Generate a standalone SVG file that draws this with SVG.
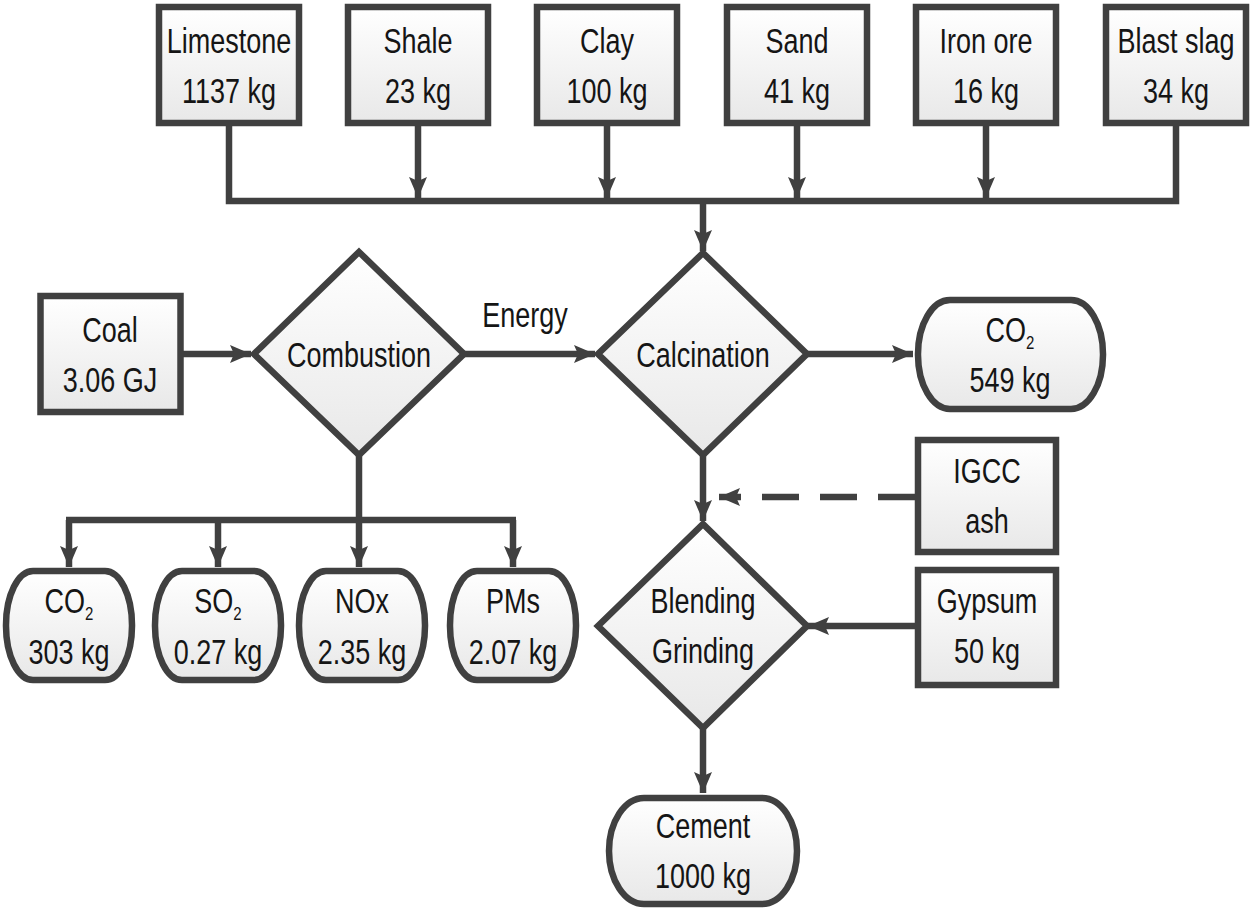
<svg xmlns="http://www.w3.org/2000/svg" width="1250" height="911" viewBox="0 0 1250 911">
<style>
.n{fill:url(#g);stroke:#404040;stroke-width:6.5;stroke-linejoin:miter}
.c{fill:none;stroke:#404040;stroke-width:6.5}
.a{marker-end:url(#ah)}
.d{stroke-dasharray:37 21}
.t{font-family:"Liberation Sans",Arial,sans-serif;font-size:27px;fill:#151515;text-anchor:middle}
.s{font-size:15px}
</style>
<defs>
<linearGradient id="g" x1="0" y1="0" x2="0" y2="1">
<stop offset="0" stop-color="#ffffff"/>
<stop offset="1" stop-color="#e8e8e8"/>
</linearGradient>
<marker id="ah" markerUnits="userSpaceOnUse" markerWidth="24" markerHeight="20" viewBox="0 -10 22 20" refX="21" refY="0" orient="auto">
<path d="M0,-9 L21,0 L0,9 L4,0 z" fill="#404040"/>
</marker>
</defs>
<rect width="1250" height="911" fill="#ffffff"/>

<g id="connectors">
<path class="c" d="M229,126 V201 H1176 V126"/>
<path class="c a" d="M418,126 V198"/>
<path class="c a" d="M607,126 V198"/>
<path class="c a" d="M797,126 V198"/>
<path class="c a" d="M986,126 V198"/>
<path class="c a" d="M703,201 V251"/>
<path class="c a" d="M183,354 H251"/>
<path class="c a" d="M464,354 H595"/>
<path class="c a" d="M806,354 H913"/>
<path class="c" d="M359,455 V520"/>
<path class="c a" d="M69,520 V567"/>
<path class="c" d="M66,520 H516"/>
<path class="c a" d="M218,520 V567"/>
<path class="c a" d="M359,520 V567"/>
<path class="c a" d="M513,520 V567"/>
<path class="c a" d="M703,455 V521"/>
<path class="c d a" d="M915,497 H719"/>
<path class="c a" d="M915,626 H808"/>
<path class="c a" d="M703,728 V793"/>
</g>

<g id="limestone"><rect class="n" x="159" y="7" width="140" height="116"/>
<text class="t" transform="translate(229,53) scale(1,1.27)">Limestone</text>
<text class="t" transform="translate(229,103) scale(1,1.27)">1137 kg</text></g>
<g id="shale"><rect class="n" x="348" y="7" width="140" height="116"/>
<text class="t" transform="translate(418,53) scale(1,1.27)">Shale</text>
<text class="t" transform="translate(418,103) scale(1,1.27)">23 kg</text></g>
<g id="clay"><rect class="n" x="537" y="7" width="140" height="116"/>
<text class="t" transform="translate(607,53) scale(1,1.27)">Clay</text>
<text class="t" transform="translate(607,103) scale(1,1.27)">100 kg</text></g>
<g id="sand"><rect class="n" x="727" y="7" width="140" height="116"/>
<text class="t" transform="translate(797,53) scale(1,1.27)">Sand</text>
<text class="t" transform="translate(797,103) scale(1,1.27)">41 kg</text></g>
<g id="ironore"><rect class="n" x="916" y="7" width="140" height="116"/>
<text class="t" transform="translate(986,53) scale(1,1.27)">Iron ore</text>
<text class="t" transform="translate(986,103) scale(1,1.27)">16 kg</text></g>
<g id="blastslag"><rect class="n" x="1106" y="7" width="140" height="116"/>
<text class="t" transform="translate(1176,53) scale(1,1.27)">Blast slag</text>
<text class="t" transform="translate(1176,103) scale(1,1.27)">34 kg</text></g>

<g id="coal"><rect class="n" x="40.5" y="296" width="140" height="116"/>
<text class="t" transform="translate(110,342) scale(1,1.27)">Coal</text>
<text class="t" transform="translate(110,392) scale(1,1.27)">3.06 GJ</text></g>

<g id="combustion"><polygon class="n" points="359,252 464,354 359,455 254,354"/>
<text class="t" transform="translate(359,367) scale(1,1.27)">Combustion</text></g>

<g id="energy-label"><text class="t" transform="translate(525,327) scale(1,1.27)">Energy</text></g>

<g id="calcination"><polygon class="n" points="703,253 807,354 703,455 598,354"/>
<text class="t" transform="translate(703,367) scale(1,1.27)">Calcination</text></g>

<g id="co2-calc"><rect class="n" x="918" y="300" width="185" height="109" rx="32" ry="54"/>
<text class="t" transform="translate(1010,342) scale(1,1.27)">CO<tspan class="s" dy="5.5">2</tspan></text>
<text class="t" transform="translate(1010,392) scale(1,1.27)">549 kg</text></g>

<g id="igcc"><rect class="n" x="918" y="440" width="138" height="112"/>
<text class="t" transform="translate(987,483) scale(1,1.27)">IGCC</text>
<text class="t" transform="translate(987,533) scale(1,1.27)">ash</text></g>

<g id="gypsum"><rect class="n" x="918" y="570" width="138" height="115"/>
<text class="t" transform="translate(987,613) scale(1,1.27)">Gypsum</text>
<text class="t" transform="translate(987,663) scale(1,1.27)">50 kg</text></g>

<g id="blending"><polygon class="n" points="703,524 807,626 703,728 598,626"/>
<text class="t" transform="translate(703,613) scale(1,1.27)">Blending</text>
<text class="t" transform="translate(703,663) scale(1,1.27)">Grinding</text></g>

<g id="cement"><rect class="n" x="609" y="798" width="188" height="106" rx="35" ry="53"/>
<text class="t" transform="translate(703,838) scale(1,1.27)">Cement</text>
<text class="t" transform="translate(703,888) scale(1,1.27)">1000 kg</text></g>

<g id="co2-comb"><rect class="n" x="6" y="571" width="126" height="109" rx="27" ry="54"/>
<text class="t" transform="translate(69,613) scale(1,1.27)">CO<tspan class="s" dy="5.5">2</tspan></text>
<text class="t" transform="translate(69,664) scale(1,1.27)">303 kg</text></g>
<g id="so2"><rect class="n" x="155" y="571" width="126" height="109" rx="27" ry="54"/>
<text class="t" transform="translate(218,613) scale(1,1.27)">SO<tspan class="s" dy="5.5">2</tspan></text>
<text class="t" transform="translate(218,664) scale(1,1.27)">0.27 kg</text></g>
<g id="nox"><rect class="n" x="299" y="571" width="126" height="109" rx="27" ry="54"/>
<text class="t" transform="translate(362,613) scale(1,1.27)">NOx</text>
<text class="t" transform="translate(362,664) scale(1,1.27)">2.35 kg</text></g>
<g id="pms"><rect class="n" x="450" y="571" width="126" height="109" rx="27" ry="54"/>
<text class="t" transform="translate(513,613) scale(1,1.27)">PMs</text>
<text class="t" transform="translate(513,664) scale(1,1.27)">2.07 kg</text></g>
</svg>
